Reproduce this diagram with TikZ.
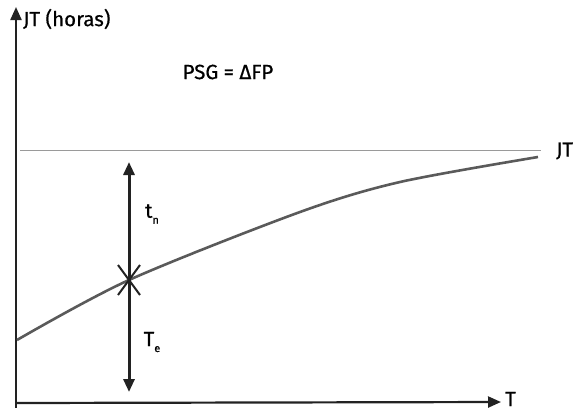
\documentclass[tikz,border=0pt]{standalone}
\usepackage{fontspec}
\setmainfont{Fira Sans}[FakeBold=0.6]
\usepackage{tikz}
\usetikzlibrary{positioning,arrows.meta,calc}
\definecolor{axisgray}{HTML}{222222}
\definecolor{curvegray}{HTML}{5A5A5A}
\definecolor{linegray}{HTML}{9A9A9A}
\newcommand{\sublow}[2]{#1\raisebox{-6pt}{\fontsize{11}{11}\selectfont #2}}

\begin{document}
\begin{tikzpicture}[x=1pt, y=-1pt, font=\fontsize{20.5}{22}\selectfont,
  >={Triangle[length=13pt, width=11pt]},
  axis/.style={axisgray, line width=2.2pt},
  lbl/.style={inner sep=0pt, text=black}]
  \useasboundingbox (0,0) rectangle (577,413);
  % axes
  \coordinate (origin) at (16,403);
  \coordinate (ytip) at (16,7);
  \coordinate (xtip) at (501,402);
  \draw[axis, ->] (16,408) -- (ytip);
  \draw[axis, ->] (origin) -- (xtip);
  \node[lbl, anchor=west] (ylab) at (23,19) {JT (horas)};
  \node[lbl, anchor=west] (xlab) at (505,399) {T};
  \node[lbl] (psg) at (228,72) {PSG = ΔFP};
  % asymptote JT
  \coordinate (hstart) at (20,150);
  \coordinate (hend) at (541,150);
  \draw[linegray, line width=1pt] (hstart) -- (hend);
  \node[lbl, anchor=west] (jt) at (556,151) {JT};
  % learning curve
  \draw[curvegray, line width=2.6pt] plot[smooth, tension=0.5] coordinates
    {(17,340) (129,280) (300,212) (400,182) (538,157)};
  % t_n / T_e split
  \coordinate (cross) at (129,280);
  \coordinate (top) at (129,162);
  \coordinate (bot) at (129,392);
  \draw[axisgray, line width=3pt, ->] (cross) -- (top);
  \draw[axisgray, line width=3pt, ->] (cross) -- (bot);
  \draw[axisgray, line width=2pt] ($(cross)+(-11,-15)$) -- ($(cross)+(11,15)$);
  \draw[axisgray, line width=2pt] ($(cross)+(-11,15)$) -- ($(cross)+(11,-15)$);
  \node[lbl] (tn) at (152,214) {\sublow{t}{n}};
  \node[lbl] (te) at (152,342) {\sublow{T}{e}};
\end{tikzpicture}
\end{document}
